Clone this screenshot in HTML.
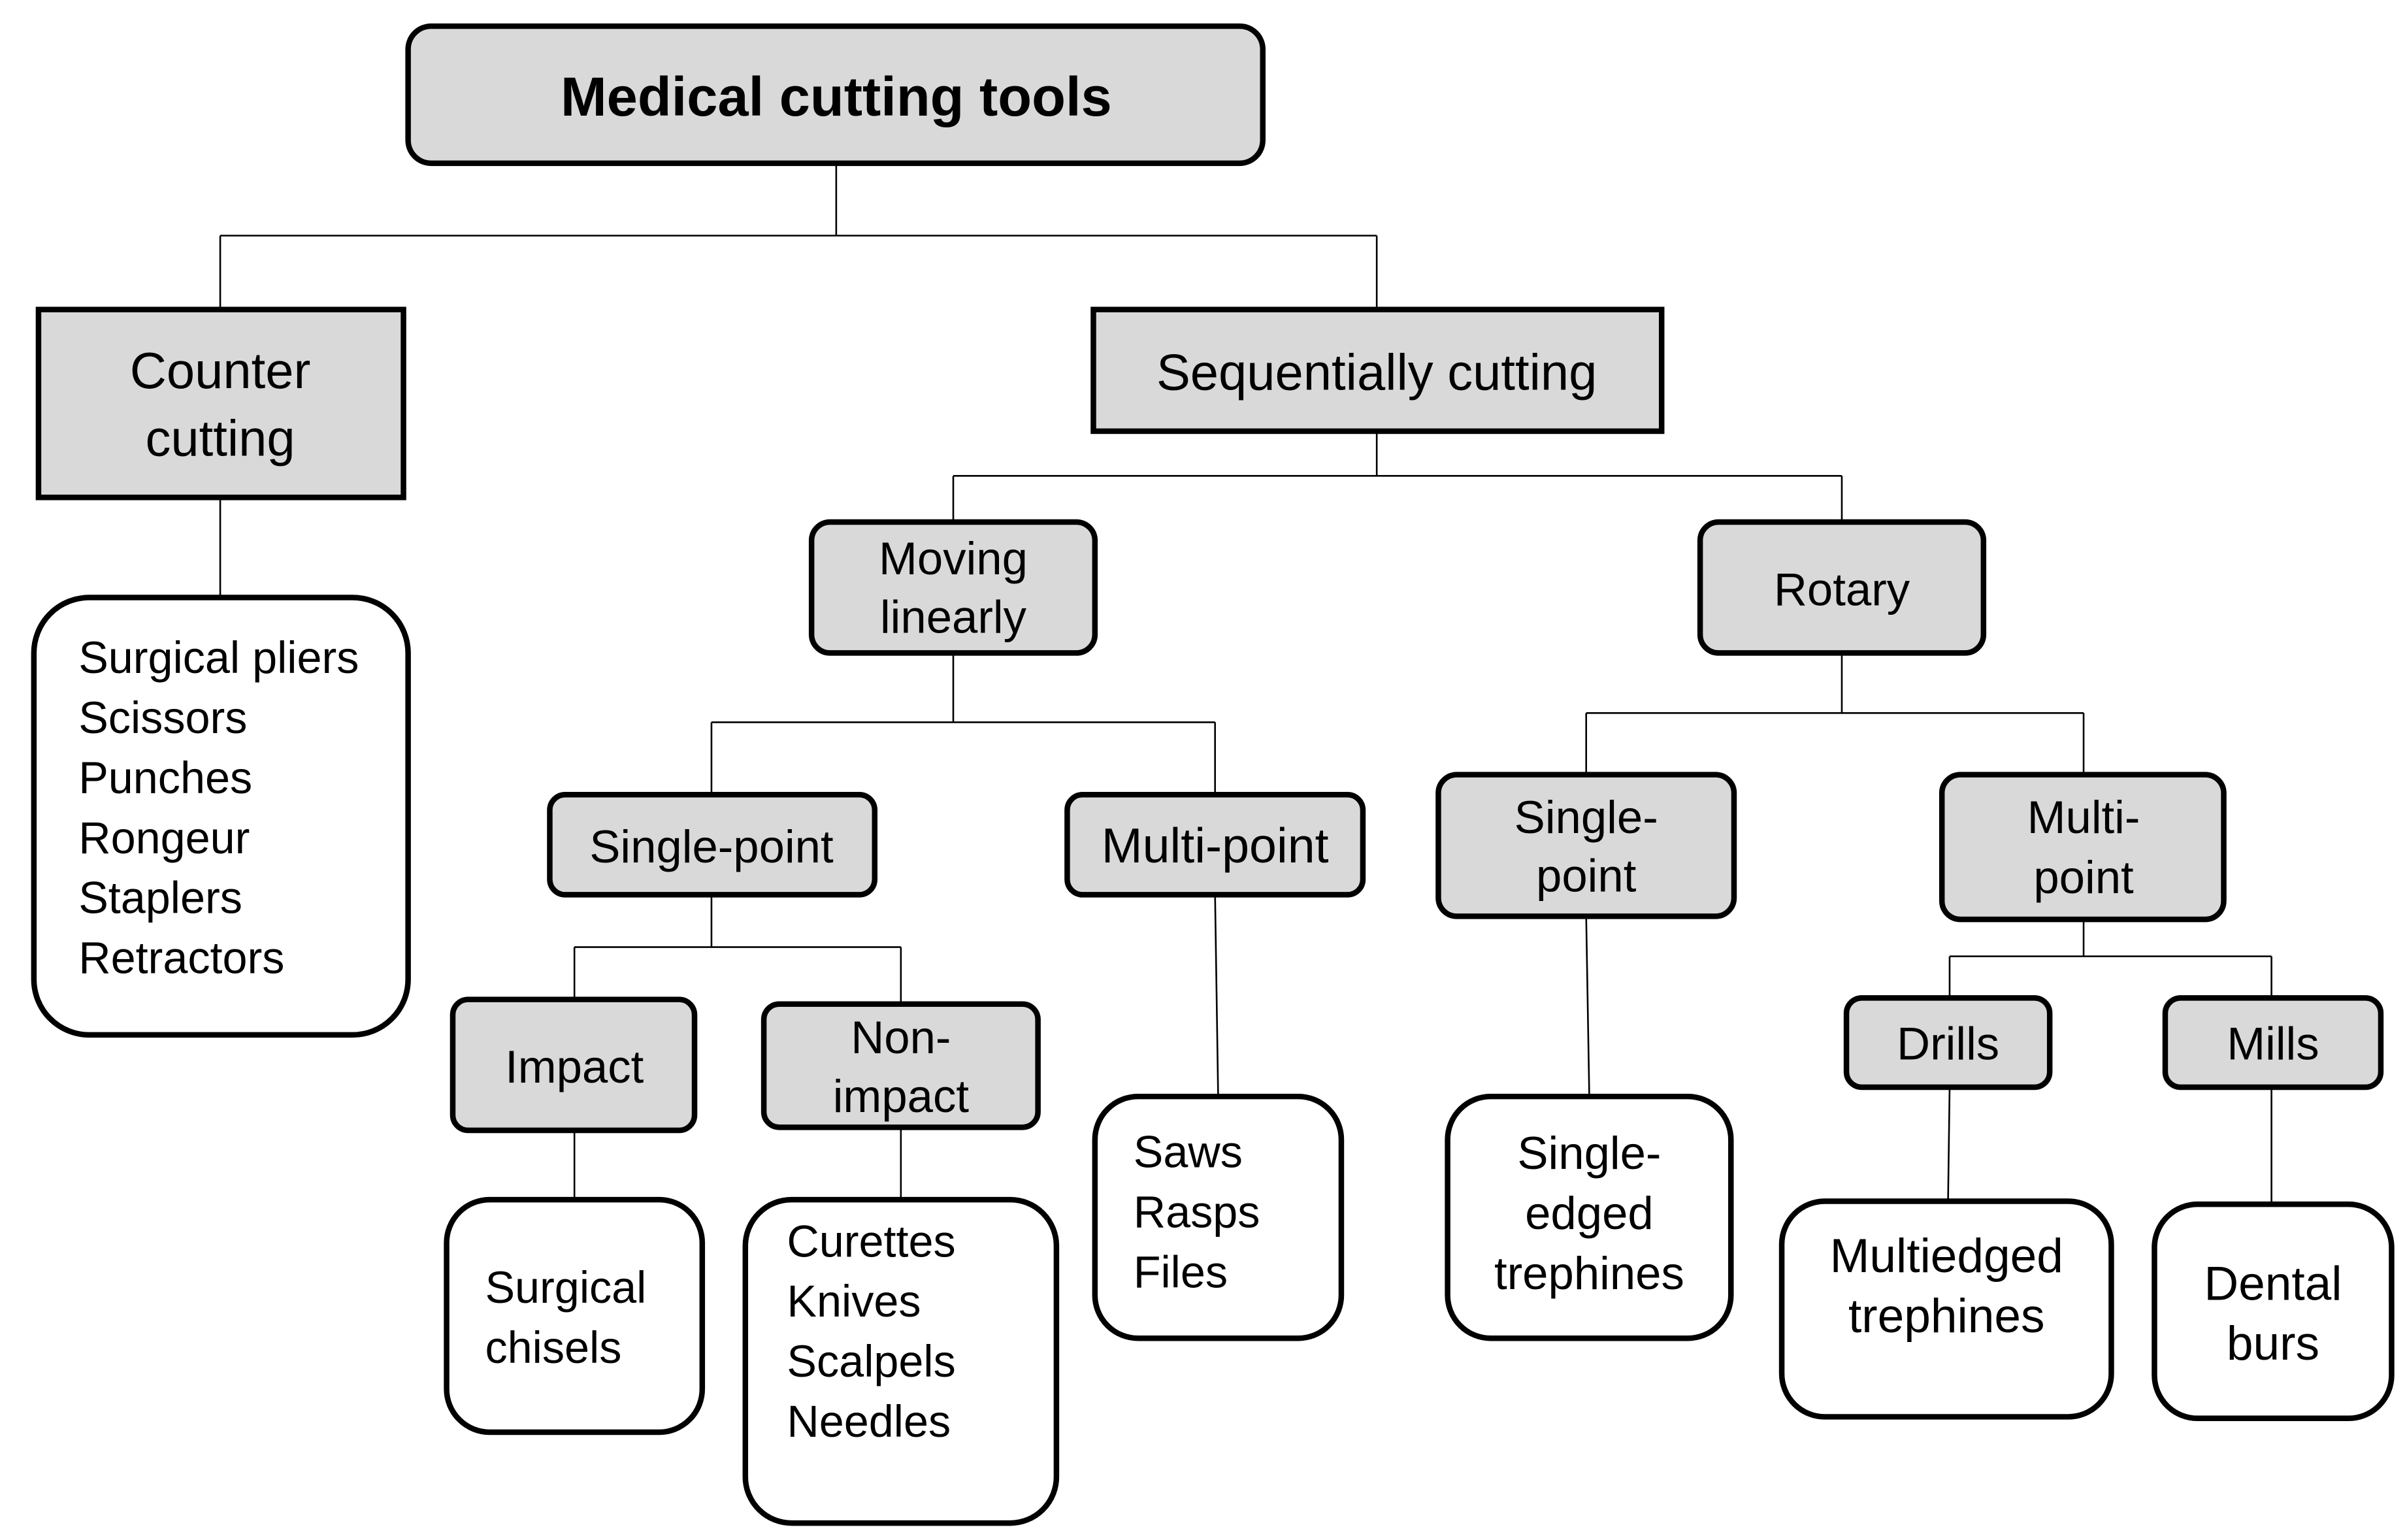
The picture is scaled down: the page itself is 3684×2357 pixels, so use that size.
<!DOCTYPE html>
<html><head><meta charset="utf-8"><style>
html,body{margin:0;padding:0;background:#fff}
svg{display:block}
text{font-family:"Liberation Sans",sans-serif;font-size:30px;fill:#000}
.t{text-anchor:middle}
.l{font-size:29px}
.b{font-size:33px}
</style></head><body>
<svg width="3684" height="2357" viewBox="0 0 1563 1000" xmlns="http://www.w3.org/2000/svg">
<g stroke="#000" stroke-width="1.1" fill="none">
<path d="M543 106V153M143 153H894M143 153V200M894 153V200"/>
<path d="M143 323V388"/>
<path d="M894 280V309M619 309H1196M619 309V338M1196 309V338"/>
<path d="M619 424V469M462 469H789M462 469V515M789 469V515"/>
<path d="M462 581V615M373 615H585M373 615V648M585 615V651"/>
<path d="M373 734V778M585 732V778M789 581L791 711"/>
<path d="M1196 424V463M1030 463H1353M1030 463V502M1353 463V502"/>
<path d="M1030 595L1032 711M1353 597V621M1266 621H1475M1266 621V648M1475 621V647"/>
<path d="M1266 706L1265 779M1475 706V781"/>
</g>
<g stroke="#000" stroke-width="3.6">
<rect x="265" y="17" width="555" height="89" rx="15" fill="#d9d9d9"/>
<rect x="25" y="201" width="237" height="122" fill="#d9d9d9"/>
<rect x="710" y="201" width="369" height="79" fill="#d9d9d9"/>
<rect x="22" y="388" width="243" height="284" rx="36" fill="#fff"/>
<rect x="527" y="339" width="184" height="85" rx="12" fill="#d9d9d9"/>
<rect x="1104" y="339" width="184" height="85" rx="12" fill="#d9d9d9"/>
<rect x="357" y="516" width="211" height="65" rx="10" fill="#d9d9d9"/>
<rect x="693" y="516" width="192" height="65" rx="10" fill="#d9d9d9"/>
<rect x="294" y="649" width="157" height="85" rx="10" fill="#d9d9d9"/>
<rect x="496" y="652" width="178" height="80" rx="10" fill="#d9d9d9"/>
<rect x="290" y="779" width="166" height="151" rx="28" fill="#fff"/>
<rect x="484" y="779" width="202" height="210" rx="30" fill="#fff"/>
<rect x="711" y="712" width="160" height="157" rx="28" fill="#fff"/>
<rect x="934" y="503" width="192" height="92" rx="12" fill="#d9d9d9"/>
<rect x="1261" y="503" width="183" height="94" rx="12" fill="#d9d9d9"/>
<rect x="940" y="712" width="184" height="157" rx="28" fill="#fff"/>
<rect x="1199" y="648" width="132" height="58" rx="10" fill="#d9d9d9"/>
<rect x="1406" y="648" width="140" height="58" rx="10" fill="#d9d9d9"/>
<rect x="1157" y="780" width="214" height="140" rx="28" fill="#fff"/>
<rect x="1399" y="782" width="154" height="139" rx="28" fill="#fff"/>
</g>
<text class="t" x="543" y="75" style="font-weight:bold;font-size:36px">Medical cutting tools</text>
<text class="t b" x="143" y="252">Counter</text>
<text class="t b" x="143" y="296">cutting</text>
<text class="t b" x="894" y="253">Sequentially cutting</text>
<text class="l" x="51" y="437">Surgical pliers</text>
<text class="l" x="51" y="476">Scissors</text>
<text class="l" x="51" y="515">Punches</text>
<text class="l" x="51" y="554">Rongeur</text>
<text class="l" x="51" y="593">Staplers</text>
<text class="l" x="51" y="632">Retractors</text>
<text class="t" x="619" y="373">Moving</text>
<text class="t" x="619" y="411">linearly</text>
<text class="t" x="1196" y="393">Rotary</text>
<text class="t" x="462" y="560">Single-point</text>
<text class="t" x="789" y="560" style="font-size:32px">Multi-point</text>
<text class="t" x="373" y="703">Impact</text>
<text class="t" x="585" y="684">Non-</text>
<text class="t" x="585" y="722">impact</text>
<text class="l" x="315" y="846">Surgical</text>
<text class="l" x="315" y="885">chisels</text>
<text class="l" x="511" y="816">Curettes</text>
<text class="l" x="511" y="855">Knives</text>
<text class="l" x="511" y="894">Scalpels</text>
<text class="l" x="511" y="933">Needles</text>
<text class="l" x="736" y="758">Saws</text>
<text class="l" x="736" y="797">Rasps</text>
<text class="l" x="736" y="836">Files</text>
<text class="t" x="1030" y="541">Single-</text>
<text class="t" x="1030" y="579">point</text>
<text class="t" x="1353" y="541">Multi-</text>
<text class="t" x="1353" y="580">point</text>
<text class="t" x="1032" y="759">Single-</text>
<text class="t" x="1032" y="798">edged</text>
<text class="t" x="1032" y="837">trephines</text>
<text class="t" x="1265" y="688">Drills</text>
<text class="t" x="1476" y="688">Mills</text>
<text class="t" x="1264" y="826" style="font-size:31px">Multiedged</text>
<text class="t" x="1264" y="865" style="font-size:31px">trephines</text>
<text class="t" x="1476" y="844" style="font-size:31px">Dental</text>
<text class="t" x="1476" y="883" style="font-size:31px">burs</text>
</svg>
</body></html>
